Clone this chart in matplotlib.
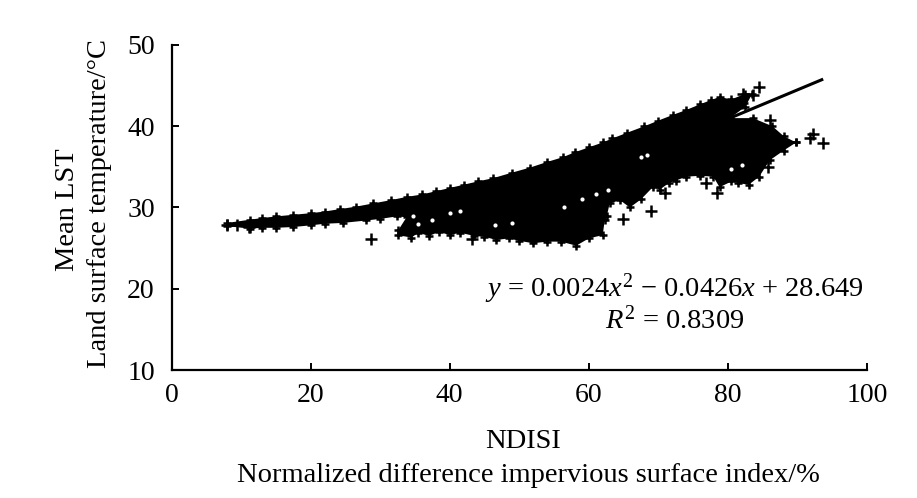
import matplotlib
matplotlib.use('Agg')
import matplotlib.pyplot as plt

plt.rcParams['font.family'] = ['Liberation Serif', 'DejaVu Serif']
plt.rcParams['mathtext.fontset'] = 'custom'
plt.rcParams['mathtext.rm'] = 'Liberation Serif'
plt.rcParams['mathtext.it'] = 'Liberation Serif:italic'

# Outline of the solid mass of points
upper_x = [8.0, 11.3, 13.0, 15.0, 17.5, 20.0, 22.0, 24.2, 26.5, 29.0, 31.5, 33.8, 36.0, 38.0, 40.0, 42.0,
           44.0, 46.2, 49.0, 51.5, 54.0, 56.3, 58.0, 60.0, 62.0, 63.4, 65.5, 68.0, 70.0, 72.1, 74.0, 76.0,
           77.5, 78.8, 80.5, 82.5, 83.5, 82.5, 80.3, 83.6, 86.4, 88.0, 89.8]
upper_y = [28.1, 28.5, 28.7, 28.9, 29.1, 29.3, 29.5, 29.8, 30.1, 30.5, 30.9, 31.3, 31.6, 32.0, 32.4, 32.8,
           33.2, 33.6, 34.3, 34.9, 35.6, 36.2, 36.8, 37.4, 38.0, 38.5, 39.2, 40.0, 40.7, 41.4, 42.0, 42.7,
           43.2, 43.6, 43.3, 44.0, 44.0, 42.4, 41.0, 41.0, 40.0, 38.8, 38.0]
lower_x = [89.8, 88.0, 86.0, 84.5, 83.0, 81.5, 80.5, 78.8, 77.9, 76.0, 74.0, 72.5, 71.5, 70.2, 69.2, 67.5,
           65.9, 64.5, 63.0, 62.6, 62.3, 62.0, 60.0, 58.2, 56.0, 54.0, 52.0, 50.0, 48.5, 46.7, 45.0, 43.5,
           41.5, 40.0, 38.5, 37.0, 35.5, 34.5, 32.5, 32.6, 33.8, 32.4, 30.0, 28.0, 24.6, 22.0, 20.0, 17.5,
           15.0, 13.0, 11.3, 8.0]
lower_y = [38.0, 37.0, 35.8, 33.8, 32.8, 33.0, 33.2, 32.5, 33.8, 33.9, 33.8, 33.3, 33.0, 32.2, 32.5, 31.0,
           30.0, 30.9, 30.5, 29.0, 28.5, 26.6, 26.2, 25.3, 25.8, 25.8, 25.6, 25.9, 26.2, 26.0, 26.4, 26.5,
           26.9, 26.6, 27.0, 26.5, 26.9, 26.3, 26.6, 27.2, 28.8, 28.9, 28.6, 28.4, 28.1, 28.0, 27.8, 27.6,
           27.5, 27.5, 27.4, 27.7]

# Separate crosses visible outside the mass
single_x = [8.0, 9.4, 11.1, 28.7, 43.2, 64.9, 69.0, 70.9, 76.9, 78.5, 85.7,
            92.2, 91.8, 93.7, 86.0, 84.5, 82.1, 83.6, 82.0]
single_y = [27.9, 27.8, 27.6, 26.1, 26.1, 28.6, 29.6, 31.8, 33.0, 31.8, 35.0,
            39.1, 38.6, 37.9, 40.8, 44.8, 44.0, 43.9, 42.9]

# Small white gaps inside the mass
gap_x = [34.7, 35.5, 37.5, 40.0, 41.5, 46.5, 49.0, 56.5, 59.0, 61.0, 62.8, 67.5, 68.3, 80.5, 82.0]
gap_y = [29.0, 28.0, 28.5, 29.3, 29.6, 27.9, 28.1, 30.0, 31.0, 31.6, 32.1, 36.2, 36.5, 34.7, 35.2]

# Fitted line, visible part only
trend_x = [80.0, 93.7]
trend_y = [40.9, 45.8]

x_ticks = [0, 20, 40, 60, 80, 100]
y_ticks = [10, 20, 30, 40, 50]

W, H = 917, 498
fig = plt.figure(figsize=(W / 100, H / 100), dpi=100)
ax = fig.add_axes([171.5 / W, 1 - 370 / H, (867 - 171.5) / W, (370 - 45) / H])

ax.fill(upper_x + lower_x, upper_y + lower_y, color='black', lw=0)
ax.plot(upper_x + lower_x, upper_y + lower_y, '+', color='black', ms=5.5, mew=1.8, clip_on=False)
ax.plot(single_x, single_y, '+', color='black', ms=8.5, mew=1.8, clip_on=False)
ax.plot(gap_x, gap_y, 'o', color='white', ms=3, mew=0)
ax.plot(trend_x, trend_y, color='black', lw=2.2, solid_capstyle='butt')

ax.set_xlim(0, 100)
ax.set_ylim(10, 50)
ax.set_xticks(x_ticks)
ax.set_yticks(y_ticks)
ax.spines['top'].set_visible(False)
ax.spines['right'].set_visible(False)
ax.spines['left'].set_linewidth(1.6)
ax.spines['bottom'].set_linewidth(1.6)
ax.tick_params(direction='in', length=5, width=1.4, labelsize=20)
ax.tick_params(axis='x', pad=9)
ax.tick_params(axis='y', pad=12)

ax.text(72.3, 20.0, r'$y$ = 0.0024$x^2$ − 0.0426$x$ + 28.649', fontsize=20.5, ha='center', va='center')
ax.text(72.3, 16.1, r'$R^2$ = 0.8309', fontsize=20.5, ha='center', va='center')

fig.text(523 / W, 1 - 441 / H, 'NDISI', fontsize=20.5, ha='center', va='center')
fig.text(528 / W, 1 - 475 / H, 'Normalized difference impervious surface index/%',
         fontsize=20.5, ha='center', va='center')
fig.text(67 / W, 1 - 210 / H, 'Mean LST', fontsize=20.5, rotation=90, ha='center', va='center')
fig.text(100 / W, 1 - 204 / H, 'Land surface temperature/°C', fontsize=20.5, rotation=90,
         ha='center', va='center')

fig.savefig('out.png', dpi=100)
